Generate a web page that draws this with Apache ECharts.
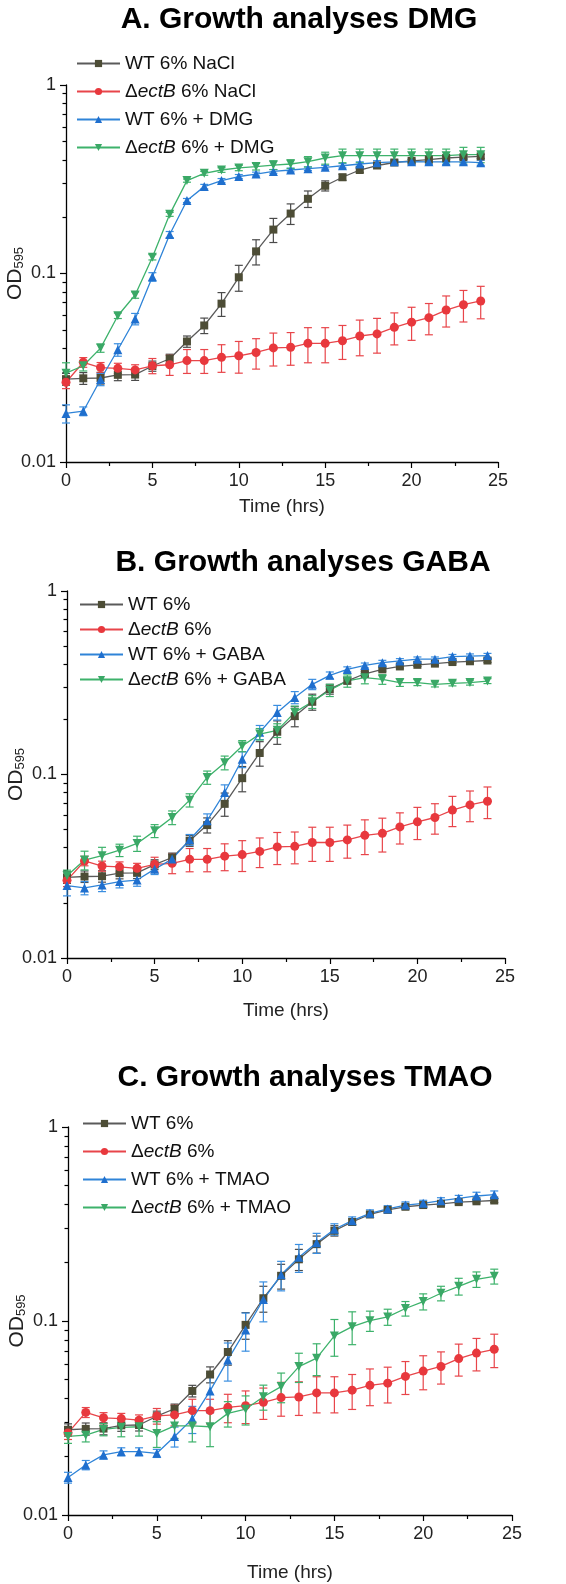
<!DOCTYPE html>
<html><head><meta charset="utf-8">
<script src="https://cdn.jsdelivr.net/npm/echarts@6/dist/echarts.min.js"></script>
<style>html,body{margin:0;padding:0;background:#fff}#c{width:566px;height:1584px}</style>
</head><body><div id="c"></div>
<script>
// ---- data (OD595 vs time, hourly 0..24) ----
const hours = [0,1,2,3,4,5,6,7,8,9,10,11,12,13,14,15,16,17,18,19,20,21,22,23,24];
const xTicks = [0,5,10,15,20,25];
const yTickLabels = [0.01,0.1,1];
const yMinorTicks = [0.02,0.03,0.04,0.05,0.06,0.07,0.08,0.09,0.2,0.3,0.4,0.5,0.6,0.7,0.8,0.9];

// shared controls
const wt6 = [0.0275,0.0278,0.0279,0.0290,0.0291,0.0323,0.0353,0.0436,0.0530,0.0692,0.0955,0.131,0.171,0.208,0.249,0.292,0.324,0.354,0.374,0.388,0.396,0.402,0.410,0.414,0.418];
const wt6Sd = [0.002,0.002,0.002,0.002,0.002,0.002,0.002,0.003,0.005,0.010,0.015,0.020,0.025,0.026,0.025,0.018,0.012,0.010,0.008,0.008,0.008,0.008,0.008,0.008,0.010];
const ect6 = [0.0265,0.0338,0.0317,0.0314,0.0308,0.0324,0.0328,0.0345,0.0345,0.0359,0.0366,0.0381,0.0403,0.0406,0.0426,0.0426,0.0440,0.0466,0.0478,0.0518,0.0552,0.0583,0.0640,0.0683,0.0715];
const ect6Sd = [0.002,0.002,0.002,0.002,0.002,0.003,0.004,0.005,0.005,0.006,0.007,0.007,0.008,0.008,0.009,0.009,0.009,0.010,0.010,0.010,0.011,0.011,0.012,0.013,0.014];

// A: DMG
const wtDmg = [0.0181,0.0186,0.0274,0.0394,0.0574,0.0960,0.161,0.244,0.289,0.311,0.327,0.337,0.348,0.354,0.360,0.366,0.373,0.381,0.387,0.391,0.392,0.391,0.391,0.391,0.387];
const wtDmgSd = [0.002,0.001,0.002,0.003,0.004,0.005,0.006,0.006,0.008,0.008,0.008,0.008,0.008,0.008,0.008,0.008,0.010,0.010,0.010,0.010,0.010,0.012,0.012,0.012,0.012];
const ectDmg = [0.0296,0.0324,0.0402,0.0597,0.0769,0.122,0.206,0.311,0.340,0.354,0.363,0.369,0.376,0.381,0.392,0.410,0.422,0.422,0.422,0.422,0.422,0.422,0.422,0.427,0.427];
const ectDmgSd = [0.004,0.002,0.002,0.002,0.003,0.004,0.005,0.006,0.008,0.010,0.012,0.015,0.020,0.020,0.025,0.030,0.035,0.035,0.035,0.035,0.035,0.035,0.035,0.040,0.040];

// B: GABA
const wtGaba = [0.0248,0.0241,0.0250,0.0261,0.0266,0.0305,0.0346,0.0441,0.0560,0.0798,0.121,0.170,0.218,0.263,0.310,0.347,0.374,0.393,0.407,0.416,0.425,0.425,0.439,0.442,0.445];
const wtGabaSd = [0.003,0.002,0.002,0.002,0.002,0.002,0.002,0.003,0.005,0.008,0.012,0.015,0.020,0.020,0.020,0.015,0.012,0.012,0.012,0.012,0.012,0.012,0.012,0.012,0.012];
const ectGaba = [0.0281,0.0342,0.0361,0.0387,0.0421,0.0493,0.0583,0.0725,0.0964,0.116,0.143,0.166,0.174,0.218,0.249,0.288,0.324,0.337,0.330,0.317,0.317,0.310,0.314,0.317,0.323];
const ectGabaSd = [0.002,0.004,0.004,0.003,0.004,0.004,0.005,0.006,0.008,0.010,0.010,0.012,0.015,0.018,0.020,0.022,0.025,0.025,0.020,0.015,0.012,0.010,0.010,0.010,0.010];

// C: TMAO
const wtTmao = [0.0156,0.0181,0.0204,0.0212,0.0212,0.0208,0.0254,0.0313,0.0436,0.0630,0.0899,0.129,0.173,0.213,0.253,0.297,0.329,0.359,0.378,0.396,0.404,0.417,0.429,0.441,0.448];
const wtTmaoSd = [0.001,0.001,0.001,0.001,0.001,0.001,0.003,0.005,0.010,0.014,0.020,0.030,0.030,0.035,0.030,0.020,0.015,0.015,0.015,0.015,0.015,0.015,0.015,0.020,0.020];
const ectTmao = [0.0254,0.0258,0.0276,0.0283,0.0285,0.0263,0.0288,0.0288,0.0285,0.0334,0.0351,0.0407,0.0459,0.0582,0.0643,0.0838,0.0935,0.1004,0.105,0.116,0.126,0.139,0.151,0.164,0.170];
const ectTmaoSd = [0.002,0.002,0.002,0.003,0.003,0.004,0.004,0.005,0.006,0.005,0.006,0.006,0.008,0.010,0.012,0.018,0.018,0.012,0.010,0.010,0.012,0.012,0.015,0.015,0.015];

const panelTitles = ['A. Growth analyses DMG','B. Growth analyses GABA','C. Growth analyses TMAO'];
const panelNames = [
  ['WT 6% NaCl','ΔectB 6% NaCl','WT 6% + DMG','ΔectB 6% + DMG'],
  ['WT 6%','ΔectB 6%','WT 6% + GABA','ΔectB 6% + GABA'],
  ['WT 6%','ΔectB 6%','WT 6% + TMAO','ΔectB 6% + TMAO']
];
const panelData = [
  [[wt6,wt6Sd],[ect6,ect6Sd],[wtDmg,wtDmgSd],[ectDmg,ectDmgSd]],
  [[wt6,wt6Sd],[ect6,ect6Sd],[wtGaba,wtGabaSd],[ectGaba,ectGabaSd]],
  [[wt6,wt6Sd],[ect6,ect6Sd],[wtTmao,wtTmaoSd],[ectTmao,ectTmaoSd]]
];

// ---- styling ----
const styles = [
  {line:'#5a5a5a', mark:'#4d4d36', err:'#4a4a4a', symbol:'rect', size:8, rot:0},
  {line:'#e8454a', mark:'#e8383d', err:'#e8454a', symbol:'circle', size:9, rot:0},
  {line:'#2f84d8', mark:'#1f6fce', err:'#3a8ee0', symbol:'triangle', size:9, rot:0},
  {line:'#3db26b', mark:'#3aa866', err:'#3db26b', symbol:'triangle', size:9, rot:180}
];
const grids = [
  {left:66, top:85, width:432, height:377},
  {left:67, top:591, width:438, height:367},
  {left:68, top:1127, width:444, height:388}
];
const titleTops = [0, 543, 1058];
const titleX = [294, 298, 300];
const legendPos = [
  {left:71, top:49, itemGap:9},
  {left:74, top:590, itemGap:6},
  {left:77, top:1109, itemGap:9}
];
const nameGaps = [35, 43, 48];
const FONT = '"Liberation Sans", Arial, sans-serif';

const option = {
  animation:false,
  title:[], legend:[], grid:[], xAxis:[], yAxis:[], series:[]
};

function errItem(params, api){
  const x = api.value(0), lo = api.value(1), hi = api.value(2);
  const pt = api.coord([x, hi]);
  const pb = api.coord([x, lo]);
  const w = 4;
  const st = api.style({stroke: api.visual('color'), lineWidth:1.2, fill:null});
  return {type:'group', children:[
    {type:'line', shape:{x1:pt[0],y1:pt[1],x2:pb[0],y2:pb[1]}, style:st},
    {type:'line', shape:{x1:pt[0]-w,y1:pt[1],x2:pt[0]+w,y2:pt[1]}, style:st},
    {type:'line', shape:{x1:pb[0]-w,y1:pb[1],x2:pb[0]+w,y2:pb[1]}, style:st}
  ]};
}

for (let p=0;p<3;p++){
  option.grid.push(Object.assign({containLabel:false, outerBoundsMode:'none'}, grids[p]));
  option.title.push({
    text: panelTitles[p], left: titleX[p], top: titleTops[p], textAlign:'center',
    textStyle:{fontFamily:FONT, fontSize:30, fontWeight:'bold', color:'#000'}
  });
  option.xAxis.push({
    type:'value', gridIndex:p, min:0, max:25, interval:5,
    name:'Time (hrs)', nameLocation:'middle', nameGap:nameGaps[p], nameMoveOverlap:false,
    nameTextStyle:{fontFamily:FONT, fontSize:19, color:'#222'},
    axisLine:{lineStyle:{color:'#000', width:1.3}},
    axisTick:{inside:false, length:6, lineStyle:{color:'#000', width:1.2}},
    minorTick:{show:true, splitNumber:2, length:4, lineStyle:{color:'#000', width:1.2}},
    axisLabel:{fontFamily:FONT, fontSize:18, color:'#222', margin:10, customValues: xTicks},
    splitLine:{show:false}
  });
  option.yAxis.push({
    type:'log', gridIndex:p, min:0.01, max:1, logBase:10, position:'left',
    name:'{a|OD}{b|595}', nameLocation:'middle', nameGap:40, nameMoveOverlap:false,
    nameTextStyle:{fontFamily:FONT, color:'#222', rich:{a:{fontFamily:FONT,fontSize:21,color:'#222'}, b:{fontFamily:FONT,fontSize:13,color:'#222', verticalAlign:'bottom', padding:[9,0,0,0]}}},
    axisLine:{show:true, lineStyle:{color:'#000', width:1.3}},
    axisTick:{show:true, inside:false, length:6, lineStyle:{color:'#000', width:1.2}, customValues: yTickLabels},
    axisLabel:{fontFamily:FONT, fontSize:18, color:'#222', margin:10, customValues: yTickLabels,
      formatter: v => String(+(+v).toPrecision(3))},
    splitLine:{show:false}
  });
  option.yAxis.push({
    type:'log', gridIndex:p, min:0.01, max:1, logBase:10, position:'left', offset:0,
    axisLine:{show:false},
    axisTick:{show:true, inside:false, length:3.5, lineStyle:{color:'#000', width:1.2}, customValues: yMinorTicks},
    axisLabel:{show:false},
    splitLine:{show:false}
  });
  const names = panelNames[p];
  option.legend.push({
    orient:'vertical', left:legendPos[p].left, top:legendPos[p].top, itemGap:legendPos[p].itemGap,
    itemWidth:43, itemHeight:9, data:names, selectedMode:false,
    textStyle:{fontFamily:FONT, fontSize:19, color:'#111', rich:{i:{fontFamily:FONT, fontSize:19, fontStyle:'italic', color:'#111'}}},
    formatter: n => n.replace('ectB','{i|ectB}')
  });
  for (let s=0;s<4;s++){
    const st = styles[s];
    const vals = panelData[p][s][0], sds = panelData[p][s][1];
    option.series.push({
      type:'custom', name:'err'+p+'_'+s, xAxisIndex:p, yAxisIndex:2*p,
      renderItem: errItem, itemStyle:{color:st.err}, silent:true, z:2,
      encode:{x:0, y:[1,2]},
      data: hours.map((h,i)=>[h, vals[i]-sds[i], vals[i]+sds[i]])
    });
    option.series.push({
      type:'line', name:names[s], xAxisIndex:p, yAxisIndex:2*p,
      data: hours.map((h,i)=>[h, vals[i]]),
      symbol: st.symbol, symbolSize: st.size, symbolRotate: st.rot, showSymbol:true,
      lineStyle:{color:st.line, width:1.3},
      itemStyle:{color:st.mark, borderWidth:0},
      z:3
    });
  }
}
const chart = echarts.init(document.getElementById('c'), null, {renderer:'canvas'});
chart.setOption(option);
</script></body></html>
